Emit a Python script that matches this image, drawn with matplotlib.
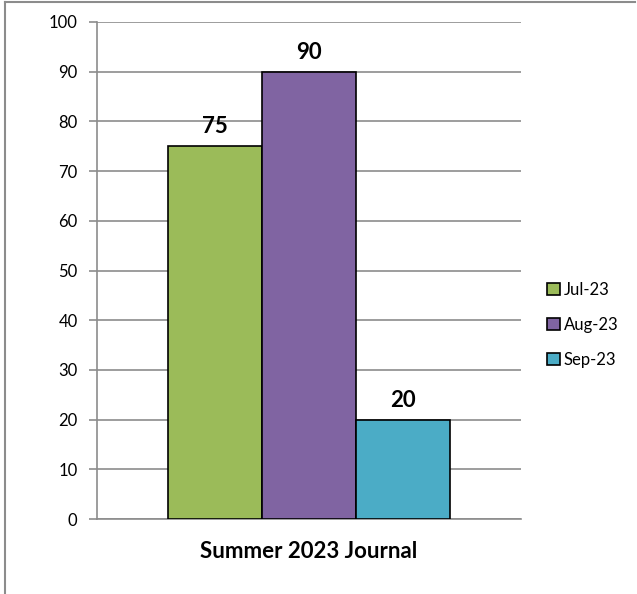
import matplotlib.pyplot as plt
from matplotlib.lines import Line2D
from matplotlib.patches import Patch

months = ['Jul-23', 'Aug-23', 'Sep-23']
values = [75, 90, 20]
colors = ['#9BBB59', '#8064A2', '#4BACC6']
yticks = [0, 10, 20, 30, 40, 50, 60, 70, 80, 90, 100]

plt.rcParams['font.family'] = ['Lato', 'DejaVu Sans']

fig = plt.figure(figsize=(6.37, 5.94), dpi=100)
ax = fig.add_axes([97 / 637, 1 - 519 / 594, 424 / 637, 497 / 594])

x = range(len(months))
bars = ax.bar(x, values, width=1.0, color=colors, edgecolor='black', linewidth=1.2, zorder=3)
for xi, v in zip(x, values):
    ax.text(xi, v + 1.8, str(v), ha='center', va='bottom', fontsize=16, fontweight='bold', zorder=4)

ax.set_xlim(-1.255, 3.255)
ax.set_ylim(0, 100)
ax.set_yticks(yticks)
ax.set_yticklabels([str(t) for t in yticks], fontsize=12)
ax.set_xticks([])
ax.yaxis.grid(True, color='#8c8c8c', linewidth=1.2, zorder=0)
ax.tick_params(axis='y', direction='out', length=6, width=1.2, color='#8c8c8c', pad=8)
for side in ['top', 'right']:
    ax.spines[side].set_visible(False)
ax.spines['left'].set_color('#8c8c8c')
ax.spines['left'].set_linewidth(1.2)
ax.spines['bottom'].set_color('#8c8c8c')
ax.spines['bottom'].set_linewidth(1.2)
ax.set_xlabel('Summer 2023 Journal', fontsize=16, fontweight='bold', labelpad=16)

handles = [Patch(facecolor=c, edgecolor='black', linewidth=1.2) for c in colors]
leg = fig.legend(handles, months, loc='center left', bbox_to_anchor=(532 / 637, 1 - 325 / 594),
                 frameon=False, fontsize=12, handlelength=0.75, handleheight=0.75,
                 handletextpad=0.25, labelspacing=1.15)

# outer border (top and left only visible)
fig.add_artist(Line2D([5 / 637, 635 / 637], [1 - 2 / 594, 1 - 2 / 594], color='#8c8c8c', linewidth=1.5))
fig.add_artist(Line2D([5 / 637, 5 / 637], [1 - 2 / 594, 0], color='#8c8c8c', linewidth=1.5))

fig.savefig('out.png', dpi=100)
